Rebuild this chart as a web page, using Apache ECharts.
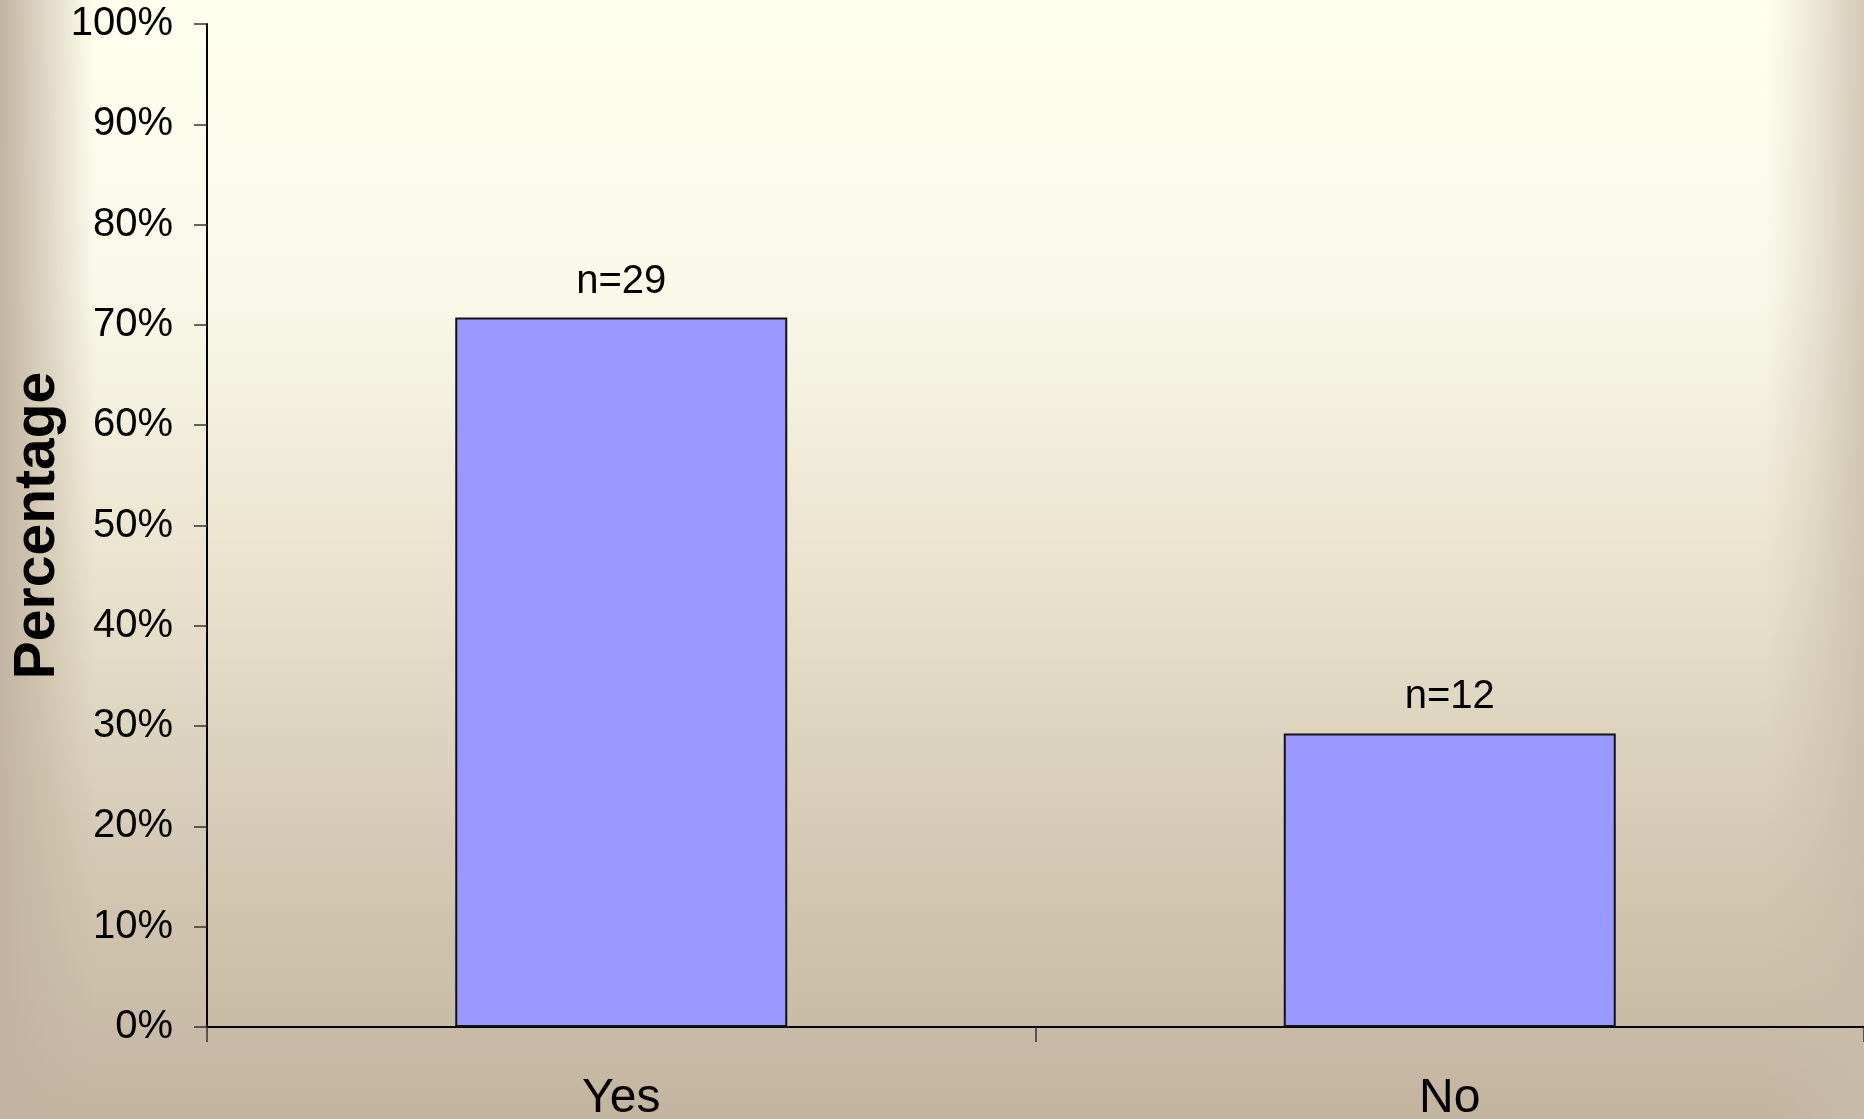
<!DOCTYPE html>
<html>
<head>
<meta charset="utf-8">
<title>Percentage</title>
<script src="https://cdn.jsdelivr.net/npm/echarts@6/dist/echarts.min.js"></script>
<style>
  html, body { margin: 0; padding: 0; width: 100%; height: 100%; overflow: hidden; }
  #chart { width: 1864px; height: 1119px; }
</style>
</head>
<body>
<div id="chart"></div>
<script>
// Answers and respondent counts
var categories = ['Yes', 'No'];
var counts = [29, 12];
var total = 41;
var percentages = [70.73, 29.27];
var countLabels = ['n=29', 'n=12'];
var yTicks = [0, 10, 20, 30, 40, 50, 60, 70, 80, 90, 100];

var FONT = '"Liberation Sans", Arial, sans-serif';

var chart = echarts.init(document.getElementById('chart'), null, { renderer: 'canvas' });

var option = {
  animation: false,
  backgroundColor: 'transparent',
  graphic: [
    {
      type: 'rect', z: -10, silent: true,
      shape: { x: 0, y: 0, width: 1864, height: 1119 },
      style: {
        fill: new echarts.graphic.LinearGradient(0, 0, 0, 1, [
          { offset: 0, color: '#FFFFEE' },
          { offset: 0.25, color: '#FAF9E9' },
          { offset: 0.5, color: '#EAE4CF' },
          { offset: 0.75, color: '#D5CAB5' },
          { offset: 1, color: '#C3B4A0' }
        ])
      }
    },
    {
      type: 'rect', z: -9, silent: true,
      shape: { x: 0, y: 0, width: 95, height: 1119 },
      style: {
        fill: new echarts.graphic.LinearGradient(0, 0, 1, 0, [
          { offset: 0, color: 'rgba(194,180,160,1)' },
          { offset: 0.5, color: 'rgba(194,180,160,0.5)' },
          { offset: 1, color: 'rgba(194,180,160,0)' }
        ])
      }
    },
    {
      type: 'rect', z: -9, silent: true,
      shape: { x: 1765, y: 0, width: 99, height: 1119 },
      style: {
        fill: new echarts.graphic.LinearGradient(0, 0, 1, 0, [
          { offset: 0, color: 'rgba(200,188,168,0)' },
          { offset: 0.5, color: 'rgba(200,188,168,0.35)' },
          { offset: 1, color: 'rgba(200,188,168,0.8)' }
        ])
      }
    }
  ],
  grid: { left: 207, right: 0, top: 24, bottom: 92, containLabel: false, outerBoundsMode: 'none' },
  xAxis: {
    type: 'category',
    data: categories,
    boundaryGap: true,
    axisLine: { show: true, lineStyle: { color: '#000', width: 2 } },
    axisTick: { show: true, length: 15, lineStyle: { color: '#333', width: 1.5 } },
    axisLabel: { color: '#000', fontFamily: FONT, fontSize: 48, margin: 48 },
    splitLine: { show: false }
  },
  yAxis: {
    type: 'value',
    min: 0, max: 100, interval: 10,
    name: 'Percentage',
    nameLocation: 'middle',
    nameGap: 140,
    nameMoveOverlap: false,
    nameTextStyle: { color: '#000', fontFamily: FONT, fontSize: 57, fontWeight: 'bold' },
    axisLine: { show: true, lineStyle: { color: '#000', width: 2 } },
    axisTick: { show: true, length: 13, lineStyle: { color: '#333', width: 1.5 } },
    axisLabel: {
      color: '#000', fontFamily: FONT, fontSize: 40, margin: 34,
      formatter: function (v) { return yTicks.indexOf(v) >= 0 ? v + '%' : ''; }
    },
    splitLine: { show: false }
  },
  series: [{
    type: 'bar',
    data: percentages,
    barWidth: 332,
    itemStyle: { color: '#9999FF', borderColor: '#111', borderWidth: 2 },
    label: {
      show: true,
      position: 'top',
      distance: 16,
      color: '#000',
      fontFamily: FONT,
      fontSize: 40,
      formatter: function (p) { return countLabels[p.dataIndex]; }
    }
  }]
};

chart.setOption(option);
</script>
</body>
</html>
